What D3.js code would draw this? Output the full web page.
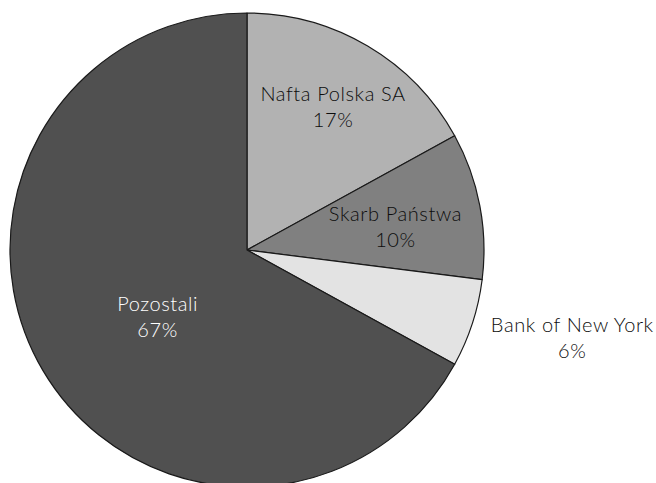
<!DOCTYPE html>
<html>
<head>
<meta charset="utf-8">
<script src="https://cdn.jsdelivr.net/npm/d3@7"></script>
<style>
    body { margin: 0; background: #ffffff; }
    svg { display: block; }
</style>
</head>
<body>
<div id="chart"></div>
<script>
// Shareholders (values in %)
const categories = ["Nafta Polska SA", "Skarb Państwa", "Bank of New York", "Pozostali"];
const shares = [17, 10, 6, 67];
const fills = ["#b2b2b2", "#808080", "#e3e3e3", "#505050"];
const textColors = ["#0d0d0d", "#0d0d0d", "#0d0d0d", "#ffffff"];

// Label placement: radius factor and angle nudge (deg) relative to slice middle
const labelRadius = [0.68, 0.63, 1.43, 0.49];
const labelNudge = [1.7, 4.6, -1.7, -9.1];

const width = 656, height = 483;
const cx = 247, cy = 250, radius = 237;

let svg = d3.select("#chart").append("svg")
    .attr("width", width)
    .attr("height", height);

let data = categories.map((c, i) => ({name: c, value: shares[i], i: i}));

let pie = d3.pie()
    .value(d => d.value)
    .sort(null);

let arc = d3.arc()
    .innerRadius(0)
    .outerRadius(radius);

let g = svg.append("g")
    .attr("transform", `translate(${cx},${cy})`);

let arcs = pie(data);

// Slices
g.selectAll("path")
    .data(arcs)
    .enter().append("path")
        .attr("d", arc)
        .attr("fill", d => fills[d.data.i])
        .attr("stroke", "#1a1a1a")
        .attr("stroke-width", 1.2)
        .attr("stroke-linejoin", "round");

// Labels
let labels = g.selectAll("text")
    .data(arcs)
    .enter().append("text")
        .attr("text-anchor", "middle")
        .style("font-family", "Lato, 'Noto Sans', sans-serif")
        .style("font-size", "20px")
        .style("font-weight", 300)
        .style("letter-spacing", "0.6px")
        .attr("fill", d => textColors[d.data.i])
        .attr("transform", d => {
            let a = (d.startAngle + d.endAngle) / 2 + labelNudge[d.data.i] * Math.PI / 180,
                r = radius * labelRadius[d.data.i];
            return `translate(${r * Math.sin(a)},${-r * Math.cos(a)})`;
        });

labels.append("tspan")
    .attr("x", 0)
    .attr("y", -13)
    .text(d => d.data.name);

labels.append("tspan")
    .attr("x", 0)
    .attr("y", 13)
    .text(d => d.data.value + "%");
</script>
</body>
</html>
